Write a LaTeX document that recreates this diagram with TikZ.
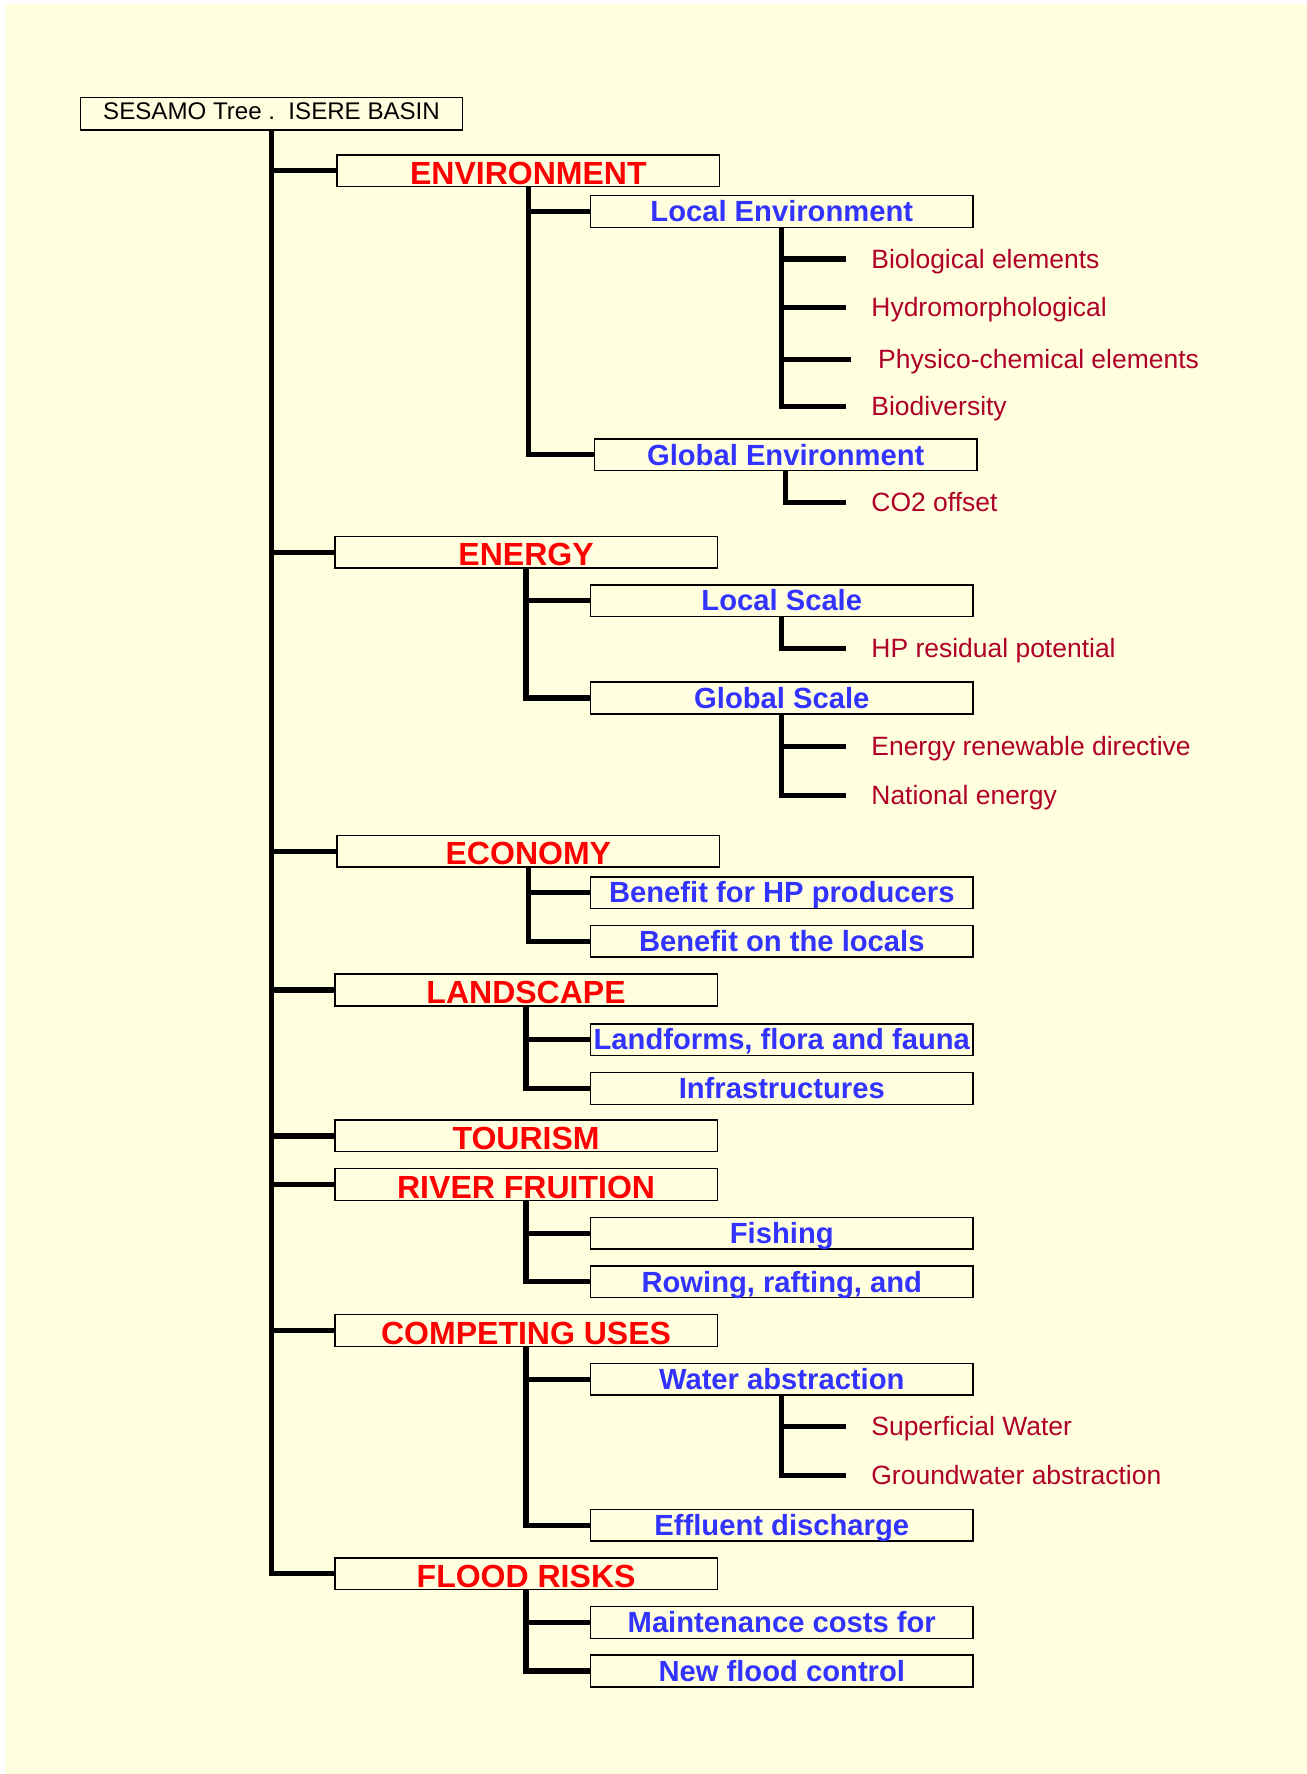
\documentclass[tikz,border=0pt]{standalone}
\usepackage{fontspec}
\setmainfont{Liberation Sans}
\definecolor{cream}{HTML}{FFFFE0}
\definecolor{lvone}{HTML}{FF0000}
\definecolor{lvtwo}{HTML}{3333FF}
\definecolor{lvthree}{HTML}{B00028}
\tikzset{
  rootbox/.style={draw, line width=1.3pt, minimum width=338pt, minimum height=29pt, inner sep=0pt,
    text height=20pt, text depth=9pt, font=\fontsize{21.3}{23}\selectfont},
  onebox/.style={draw, line width=1.3pt, minimum width=338pt, minimum height=28pt, inner sep=0pt,
    text height=26pt, text depth=2pt, text=lvone, font=\bfseries\fontsize{28.3}{30}\selectfont},
  twobox/.style={draw, line width=1.3pt, minimum width=338pt, minimum height=28pt, inner sep=0pt,
    text height=23pt, text depth=5pt, text=lvtwo, font=\bfseries\fontsize{25.8}{28}\selectfont},
  leaf/.style={anchor=west, inner xsep=22pt, inner ysep=0pt, text height=16pt, text depth=0pt,
    text=lvthree, font=\fontsize{23.4}{25}\selectfont},
  tree/.style={line width=4.6pt, line join=miter}
}
\begin{document}
\begin{tikzpicture}[x=1pt, y=-1pt]
\useasboundingbox (0,0) rectangle (1155,1568);
\fill[white] (0,0) rectangle (1155,1568);
\fill[cream] (4,3.5) rectangle (1155,1568);

% root
\node[rootbox] (root) at (240,100.5) {SESAMO Tree .\ \ ISERE BASIN};

% level one
\node[onebox] (env) at (467,151) {ENVIRONMENT};
\node[onebox] (ene) at (465,488) {ENERGY};
\node[onebox] (eco) at (467,752.5) {ECONOMY};
\node[onebox] (lan) at (465,875) {LANDSCAPE};
\node[onebox] (tou) at (465,1004) {TOURISM};
\node[onebox] (riv) at (465,1047) {RIVER FRUITION};
\node[onebox] (com) at (465,1176) {COMPETING USES};
\node[onebox] (flo) at (465,1391) {FLOOD RISKS};

% level two
\node[twobox] (locenv) at (691,187) {Local Environment};
\node[twobox] (gloenv) at (694.5,402) {Global Environment};
\node[twobox] (locsca) at (691,531) {Local Scale};
\node[twobox] (glosca) at (691,617) {Global Scale};
\node[twobox] (benhp) at (691,789) {Benefit for HP producers};
\node[twobox] (benlo) at (691,832) {Benefit on the locals};
\node[twobox] (landf) at (691,919) {Landforms, flora and fauna};
\node[twobox] (infra) at (691,962) {Infrastructures};
\node[twobox] (fish) at (691,1090) {Fishing};
\node[twobox] (row) at (691,1133) {Rowing, rafting, and};
\node[twobox] (wat) at (691,1219) {Water abstraction};
\node[twobox] (eff) at (691,1348) {Effluent discharge};
\node[twobox] (mai) at (691,1434) {Maintenance costs for};
\node[twobox] (nfc) at (691,1477) {New flood control};

% level three
\node[leaf] (bio) at (748,229) {Biological elements};
\node[leaf] (hyd) at (748,272) {Hydromorphological};
\node[leaf, inner xsep=24pt] (phy) at (752,318) {Physico-chemical elements};
\node[leaf] (bdv) at (748,359) {Biodiversity};
\node[leaf] (co2) at (748,444) {CO2 offset};
\node[leaf] (hpr) at (748,573) {HP residual potential};
\node[leaf] (erd) at (748,660) {Energy renewable directive};
\node[leaf] (nat) at (748,703) {National energy};
\node[leaf] (sup) at (748,1261) {Superficial Water};
\node[leaf] (gro) at (748,1304) {Groundwater abstraction};

% connectors
\foreach \c in {env,ene,eco,lan,tou,riv,com,flo}
  \draw[tree] (root.south) |- (\c.west);
\foreach \c in {locenv,gloenv} \draw[tree] (env.south) |- (\c.west);
\foreach \c in {locsca,glosca} \draw[tree] (ene.south) |- (\c.west);
\foreach \c in {benhp,benlo} \draw[tree] (eco.south) |- (\c.west);
\foreach \c in {landf,infra} \draw[tree] (lan.south) |- (\c.west);
\foreach \c in {fish,row} \draw[tree] (riv.south) |- (\c.west);
\foreach \c in {wat,eff} \draw[tree] (com.south) |- (\c.west);
\foreach \c in {mai,nfc} \draw[tree] (flo.south) |- (\c.west);
\foreach \c in {bio,hyd,phy,bdv} \draw[tree] (locenv.south) |- (\c.west);
\draw[tree] (gloenv.south) |- (co2.west);
\draw[tree] (locsca.south) |- (hpr.west);
\foreach \c in {erd,nat} \draw[tree] (glosca.south) |- (\c.west);
\foreach \c in {sup,gro} \draw[tree] (wat.south) |- (\c.west);
\end{tikzpicture}
\end{document}
